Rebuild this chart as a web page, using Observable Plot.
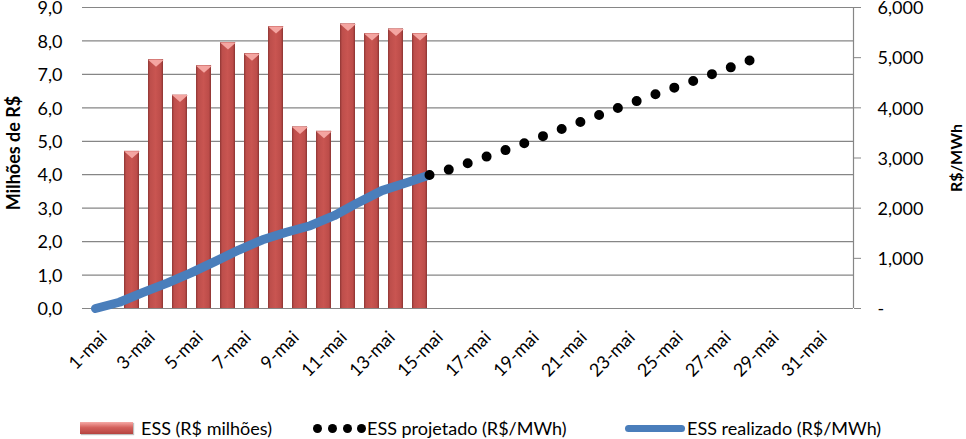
<!DOCTYPE html>
<html><head><meta charset="utf-8">
<script src="https://cdn.jsdelivr.net/npm/d3@7"></script>
<script src="https://cdn.jsdelivr.net/npm/@observablehq/plot@0.6"></script>
<style>
body{margin:0;background:#fff;font-family:Lato,sans-serif;}
#wrap{position:relative;width:966px;height:439px;overflow:hidden;}
.lg{position:absolute;font-size:18px;line-height:22px;top:417px;white-space:nowrap;color:#000;}
.sw{position:absolute;}
</style></head><body>
<svg width="0" height="0" style="position:absolute">
<defs>
<linearGradient id="barGrad" x1="0" x2="1" y1="0" y2="0">
<stop offset="0" stop-color="#8e3634"/>
<stop offset="0.14" stop-color="#bd4e4b"/>
<stop offset="0.5" stop-color="#c95551"/>
<stop offset="0.86" stop-color="#bc4c49"/>
<stop offset="1" stop-color="#8a3331"/>
</linearGradient>
</defs></svg>
<div id="wrap"></div>
<script>
// ---- data ----
const days = [1,2,3,4,5,6,7,8,9,10,11,12,13,14,15,16,17,18,19,20,21,22,23,24,25,26,27,28,29,30,31];
const labelDays = [1,3,5,7,9,11,13,15,17,19,21,23,25,27,29,31];
const barDays = [2,3,4,5,6,7,8,9,10,11,12,13,14];
const barValues = [4.70,7.44,6.38,7.26,7.95,7.62,8.43,5.43,5.30,8.51,8.22,8.36,8.22];
const realizedDays = [1,2,3,4,5,6,7,8,9,10,11,12,13,14,15];
const realizedValues = [0,125,320,505,710,935,1165,1370,1520,1650,1850,2110,2350,2500,2660];
const projectedDays = [15,16,17,18,19,20,21,22,23,24,25,26,27,28,29];
const projectedValues = [2660,2795,2965,3125,3300,3480,3660,3840,4015,4190,4360,4525,4700,4870,5050];
const leftTicks = [0,1,2,3,4,5,6,7,8,9];
const rightTicks = [0,1000,2000,3000,4000,5000,6000];
const legendLabels = ["ESS (R$ milhões)", "ESS projetado (R$/MWh)", "ESS realizado (R$/MWh)"];
const leftTitle = "Milhões de R$";
const rightTitle = "R$/MWh";
const monthSuffix = "mai";

const bars = barDays.map((d,i)=>({day:d, value:barValues[i]}));
const realized = realizedDays.map((d,i)=>({day:d, value:realizedValues[i]}));
const projected = projectedDays.map((d,i)=>({day:d, value:projectedValues[i]}));

const W = 966, H = 400;
const common = {width: W, height: H, marginLeft: 82, marginRight: 113, marginTop: 7, marginBottom: H - 308};
const style = {fontFamily: "Lato, sans-serif", fontSize: "18px", background: "transparent", overflow: "visible", color: "#000"};

const bevel = {draw(ctx){ ctx.moveTo(-8,-3); ctx.lineTo(8,-3); ctx.lineTo(0,4); ctx.closePath(); }};

const plotA = Plot.plot({
  ...common, style,
  x: {type: "band", domain: days, paddingInner: 0.36, paddingOuter: 0.18, axis: null},
  y: {domain: [0, 9], axis: null},
  marks: [
    Plot.ruleY(leftTicks, {stroke: "#868686", strokeWidth: 1.2, strokeOpacity: 1}),
    Plot.barY(bars, {x: "day", y: "value", fill: "url(#barGrad)"}),
    Plot.dot(bars, {x: "day", y: "value", symbol: bevel, fill: "#f4a5a1", stroke: null, dy: 3}),
    Plot.text(leftTicks, {y: d => d, text: d => d.toFixed(1).replace(".", ","), frameAnchor: "left", textAnchor: "end", dx: -20, dy: 1}),
    Plot.text(labelDays, {x: d => d, text: d => `${d}-${monthSuffix}`, frameAnchor: "bottom", textAnchor: "end", rotate: -45, dx: 0, dy: 30}),
    Plot.text([leftTitle], {text: d => d, frameAnchor: "left", textAnchor: "middle", dx: -68.5, dy: -5, rotate: -90, fontWeight: "bold"})
  ]
});

const xMax = 32.77;
const plotB = Plot.plot({
  ...common, style,
  x: {type: "linear", domain: [0.455, xMax], axis: null},
  y: {domain: [0, 6000], axis: null},
  marks: [
    Plot.ruleX([xMax], {stroke: "#868686", strokeWidth: 1.2}),
    Plot.line(realized, {x: "day", y: "value", stroke: "#4a7ebb", strokeWidth: 9, strokeLinecap: "round", strokeLinejoin: "round"}),
    Plot.line(projected, {x: "day", y: "value", stroke: "#000", strokeWidth: 10, strokeDasharray: "0 20", strokeLinecap: "round", strokeLinejoin: "round"}),
    Plot.axisY({anchor: "right", ticks: rightTicks, tickFormat: () => "", tickSize: 7, stroke: "#868686", label: null}),
    Plot.text(rightTicks, {y: d => d, text: d => d === 0 ? "-" : d3.format(",")(d), frameAnchor: "right", textAnchor: "start", dx: 24, dy: 1}),
    Plot.text([rightTitle], {text: d => d, frameAnchor: "right", textAnchor: "middle", dx: 103, rotate: -90, fontWeight: "bold", fontSize: 16})
  ]
});

const wrap = document.getElementById("wrap");
wrap.appendChild(plotA);
wrap.appendChild(plotB);
for (const p of [plotA, plotB]) { p.style.position = "absolute"; p.style.left = "0"; p.style.top = "0"; }

// legend
const leg = document.createElement("div");
leg.innerHTML = `
<div class="sw" style="left:80px;top:422px;width:53px;height:12px;background:linear-gradient(#f6aaa6,#d4625e 45%,#b5433f);box-shadow:1px 1px 1px rgba(0,0,0,0.25)"></div>
<div class="lg" style="left:141px">${legendLabels[0]}</div>
${[317,332,347,361].map(x=>`<div class="sw" style="left:${x-4.5}px;top:424px;width:9px;height:9px;border-radius:50%;background:#000"></div>`).join("")}
<div class="lg" style="left:367px">${legendLabels[1]}</div>
<div class="sw" style="left:625px;top:425px;width:60px;height:7px;border-radius:4px;background:#4a7ebb"></div>
<div class="lg" style="left:687px">${legendLabels[2]}</div>`;
wrap.appendChild(leg);
</script>
</body></html>
